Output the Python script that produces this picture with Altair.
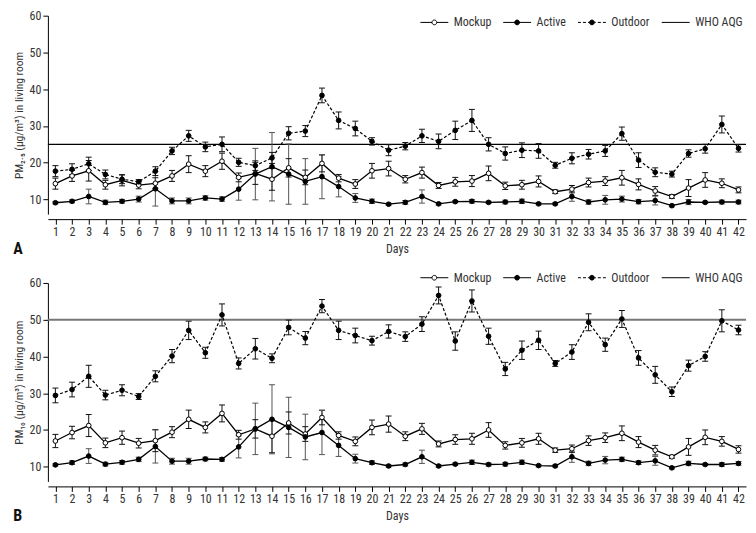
import altair as alt
import pandas as pd

FONT = "Roboto Condensed, Liberation Sans Narrow, DejaVu Sans Condensed, Arial Narrow, Roboto, sans-serif"

days = list(range(1, 43))
legend_items = ["Mockup", "Active", "Outdoor", "WHO AQG"]

# ---------- Panel A : PM2.5 ----------
pm25_who = 25
pm25_mockup = [14.3, 16.4, 17.8, 14.0, 15.2, 13.9, 14.4, 16.4, 19.6, 17.7, 20.4, 16.0, 17.1, 15.5,
               18.6, 16.0, 19.8, 15.8, 14.2, 17.8, 18.4, 15.5, 17.3, 13.8, 14.8, 15.0, 17.1, 13.7,
               14.0, 14.9, 12.1, 12.8, 14.6, 15.0, 15.9, 14.1, 12.3, 10.8, 13.1, 15.3, 14.4, 12.6]
pm25_mockup_err = [1.5, 1.5, 2.8, 1.2, 1.5, 1.0, 1.5, 1.5, 2.3, 1.5, 2.2, 1.2, 3.0, 3.0,
                   2.5, 2.0, 2.3, 1.0, 1.2, 2.0, 2.0, 1.0, 1.5, 0.8, 1.2, 1.5, 2.0, 1.0,
                   1.2, 1.5, 0.5, 1.0, 1.2, 1.2, 2.0, 1.5, 1.2, 0.5, 2.3, 2.0, 1.2, 0.8]
pm25_active = [9.1, 9.5, 10.8, 9.2, 9.5, 10.1, 12.9, 9.6, 9.6, 10.4, 10.1, 12.8, 16.9, 18.9,
               16.9, 14.9, 16.2, 13.5, 10.4, 9.5, 8.7, 9.2, 10.8, 8.8, 9.4, 9.5, 9.2, 9.3,
               9.5, 8.8, 8.8, 10.8, 9.3, 9.9, 10.1, 9.4, 9.7, 8.3, 9.3, 9.2, 9.3, 9.3]
pm25_active_err = [0.3, 0.4, 2.0, 0.6, 0.5, 0.8, 4.7, 0.8, 0.8, 0.6, 0.6, 3.0, 7.0, 9.3,
                   8.2, 6.2, 6.0, 2.8, 1.2, 0.6, 0.3, 0.5, 1.8, 0.3, 0.3, 0.5, 0.3, 0.5,
                   0.6, 0.3, 0.3, 1.3, 0.6, 1.2, 0.8, 0.6, 1.2, 0.3, 0.7, 0.3, 0.5, 0.5]
pm25_outdoor = [17.7, 18.2, 19.7, 16.8, 15.5, 14.8, 17.7, 23.2, 27.3, 24.3, 25.0, 20.1, 19.2, 21.3,
                28.0, 28.6, 38.3, 31.5, 29.3, 25.8, 23.4, 24.5, 27.3, 25.8, 28.8, 31.5, 25.0, 22.5,
                23.4, 23.2, 19.3, 21.2, 22.3, 23.2, 27.9, 20.7, 17.4, 16.9, 22.5, 23.8, 30.4, 23.9]
pm25_outdoor_err = [1.5, 1.5, 1.8, 1.2, 1.2, 0.6, 1.2, 1.0, 1.5, 1.3, 2.0, 1.1, 1.3, 1.5,
                    1.8, 1.5, 2.0, 2.3, 2.0, 1.0, 1.5, 1.0, 1.8, 2.0, 2.5, 3.0, 1.8, 1.8,
                    2.0, 2.0, 0.8, 1.5, 1.3, 1.5, 1.8, 2.0, 1.2, 0.8, 1.0, 1.2, 2.3, 1.0]

# ---------- Panel B : PM10 ----------
pm10_who = 50
pm10_mockup = [17.0, 19.3, 21.2, 16.5, 17.9, 16.4, 17.1, 19.4, 22.9, 20.7, 24.5, 18.7, 20.3, 18.3,
               21.9, 18.9, 23.4, 18.5, 16.9, 20.7, 21.6, 18.3, 20.3, 16.2, 17.4, 17.6, 20.0, 15.8,
               16.5, 17.6, 14.5, 14.9, 17.1, 17.9, 19.1, 16.7, 14.5, 12.7, 15.4, 18.0, 16.9, 14.7]
pm10_mockup_err = [1.8, 1.7, 3.0, 1.3, 1.8, 1.3, 3.0, 1.5, 2.5, 1.5, 2.3, 1.2, 2.5, 4.5,
                   3.0, 2.0, 2.0, 1.0, 1.2, 2.0, 2.2, 1.2, 1.5, 0.8, 1.3, 1.5, 2.0, 1.0,
                   1.2, 1.5, 0.6, 1.0, 1.3, 1.3, 2.0, 1.5, 1.3, 0.4, 2.3, 2.0, 1.3, 1.0]
pm10_active = [10.5, 11.1, 12.9, 10.7, 11.2, 12.0, 15.5, 11.5, 11.5, 12.1, 12.0, 15.4, 20.3, 22.9,
               20.7, 18.1, 19.3, 15.8, 12.2, 11.1, 10.2, 10.6, 12.7, 10.2, 10.7, 11.2, 10.6, 10.7,
               11.2, 10.3, 10.2, 12.7, 10.9, 11.8, 12.0, 11.1, 11.6, 9.7, 10.9, 10.6, 10.6, 10.9]
pm10_active_err = [0.3, 0.5, 2.0, 0.5, 0.5, 0.6, 4.5, 0.8, 0.8, 0.5, 0.5, 3.0, 7.0, 9.4,
                   8.2, 6.2, 6.0, 3.0, 1.2, 0.5, 0.3, 0.4, 1.8, 0.3, 0.3, 0.6, 0.4, 0.5,
                   0.6, 0.3, 0.3, 1.5, 0.6, 1.0, 0.6, 0.5, 1.2, 0.3, 0.6, 0.3, 0.5, 0.5]
pm10_outdoor = [29.4, 31.0, 34.6, 29.5, 30.8, 29.1, 34.6, 40.1, 47.1, 41.0, 51.3, 38.1, 42.1, 39.5,
                47.9, 45.0, 53.7, 47.1, 45.7, 44.3, 46.8, 45.4, 48.8, 56.6, 44.2, 55.1, 45.5, 36.6,
                41.7, 44.4, 38.1, 41.2, 49.3, 43.2, 50.2, 39.6, 35.0, 30.4, 37.5, 40.0, 49.7, 47.2]
pm10_outdoor_err = [2.0, 2.0, 3.0, 1.3, 1.5, 0.8, 1.5, 1.8, 2.5, 1.5, 3.0, 1.5, 2.8, 1.2,
                    2.0, 1.8, 1.8, 2.5, 2.0, 1.2, 1.8, 1.3, 2.0, 2.3, 2.5, 3.0, 2.2, 1.8,
                    2.5, 2.5, 0.8, 2.0, 2.3, 1.8, 2.3, 2.0, 2.3, 1.3, 1.5, 1.3, 3.0, 1.3]

W, H = 700, 199


def circle(r):
    return f"M{-r},0A{r},{r},0,1,1,{r},0A{r},{r},0,1,1,{-r},0Z"


# legend glyphs: unit = 7 px (symbolSize 196), drawn 28 px wide
R = 0.34
legend_paths = [
    f"M-2,0H{-R}M{R},0H2" + circle(R),
    "M-2,0H2" + circle(R),
    f"M-2,0H-1.57M-1.28,0H-0.85M-0.56,0H{-R}M{R},0H0.56M0.85,0H1.28M1.57,0H2" + circle(R),
    "M-2,0H2",
]


def build_df(mockup, mockup_err, active, active_err, outdoor, outdoor_err):
    rows = []
    for name, vals, errs in [("Mockup", mockup, mockup_err),
                             ("Active", active, active_err),
                             ("Outdoor", outdoor, outdoor_err)]:
        for d, v, e in zip(days, vals, errs):
            rows.append({"day": d, "series": name, "mean": v, "lo": v - e, "hi": v + e})
    return pd.DataFrame(rows)


def panel(df, who, ytitle, label, who_color, who_width, legend_y):
    xscale = alt.Scale(domain=[0.55, 42.45], nice=False, zero=False)
    yscale = alt.Scale(domain=[6, 60], nice=False, zero=False)
    xaxis = alt.Axis(values=days, offset=5, tickSize=5, labelPadding=2, labelFontSize=12,
                     title="Days", titleFontSize=12, titleFontWeight="normal", titlePadding=6,
                     grid=False, domainColor="black", tickColor="black", labelColor="#333",
                     titleColor="#333", labelFont=FONT, titleFont=FONT, labelFlush=False)
    yaxis = alt.Axis(values=[10, 20, 30, 40, 50, 60], tickSize=5, labelPadding=2, labelFontSize=12,
                     title=ytitle, titleFontSize=11.5, titleFontWeight="normal", titlePadding=5,
                     grid=False, domainColor="black", tickColor="black", labelColor="#333",
                     titleColor="#333", labelFont=FONT, titleFont=FONT)

    def X(field="day"):
        return alt.X(f"{field}:Q", scale=xscale, axis=xaxis)

    def Y(field):
        return alt.Y(f"{field}:Q", scale=yscale, axis=yaxis)

    base = alt.Chart(df)
    err_color = alt.condition("datum.series == 'Active'", alt.value("#555"), alt.value("#111"))

    who_rule = alt.Chart(pd.DataFrame({"who": [who]})).mark_rule(
        color=who_color, strokeWidth=who_width).encode(y=Y("who"))

    bars = base.mark_rule(strokeWidth=1).encode(
        x=X(), y=Y("lo"), y2="hi:Q", color=err_color)
    caps_lo = base.mark_tick(orient="horizontal", size=6, thickness=1, opacity=1).encode(
        x=X(), y=Y("lo"), color=err_color)
    caps_hi = base.mark_tick(orient="horizontal", size=6, thickness=1, opacity=1).encode(
        x=X(), y=Y("hi"), color=err_color)

    solid_lines = base.transform_filter("datum.series != 'Outdoor'").mark_line(
        color="black", strokeWidth=1.3).encode(x=X(), y=Y("mean"), detail="series:N")
    dashed_line = base.transform_filter("datum.series == 'Outdoor'").mark_line(
        color="black", strokeWidth=1.2, strokeDash=[3, 2]).encode(x=X(), y=Y("mean"))

    points = base.mark_point(filled=True, size=22, stroke="black", strokeWidth=1, opacity=1).encode(
        x=X(), y=Y("mean"),
        fill=alt.condition("datum.series == 'Mockup'", alt.value("white"), alt.value("black")))

    leg = alt.Legend(title=None, orient="none", legendX=380, legendY=legend_y, direction="horizontal",
                     padding=0, symbolSize=196, symbolStrokeWidth=1, symbolOpacity=1,
                     labelFontSize=12, labelFont=FONT, labelColor="#333", labelOffset=12,
                     columnPadding=9)
    legend_layer = alt.Chart(pd.DataFrame({"item": legend_items})).transform_filter("false").mark_point(
        filled=False, opacity=1, strokeWidth=1).encode(
        x=X(), y=Y("mean"),
        shape=alt.Shape("item:N", scale=alt.Scale(domain=legend_items, range=legend_paths), legend=leg),
        fill=alt.Fill("item:N", scale=alt.Scale(domain=legend_items,
                                                range=["white", "black", "black", "black"]), legend=leg),
        stroke=alt.Stroke("item:N", scale=alt.Scale(domain=legend_items,
                                                    range=["black", "black", "black", "black"]), legend=leg),
    )

    return alt.layer(who_rule, bars, caps_lo, caps_hi, solid_lines, dashed_line, points, legend_layer).properties(
        width=W, height=H,
        title=alt.TitleParams(text=label, orient="bottom", anchor="start", frame="bounds",
                              fontSize=16, fontWeight="bold", font=FONT, offset=-13, color="#111"),
    )


df_a = build_df(pm25_mockup, pm25_mockup_err, pm25_active, pm25_active_err, pm25_outdoor, pm25_outdoor_err)
df_b = build_df(pm10_mockup, pm10_mockup_err, pm10_active, pm10_active_err, pm10_outdoor, pm10_outdoor_err)

chart_a = panel(df_a, pm25_who, "PM₂.₅ (μg/m³) in living room", "A", "black", 1.2, -1)
chart_b = panel(df_b, pm10_who, "PM₁₀ (μg/m³) in living room", "B", "#777", 2, -13)

chart = alt.vconcat(chart_a, chart_b, spacing=11).resolve_scale(
    shape="independent", fill="independent", stroke="independent").resolve_legend(
    shape="independent", fill="independent", stroke="independent").properties(
    padding={"left": 4, "top": 0, "right": 0, "bottom": 0}).configure_view(stroke="transparent")

chart.save("out.html", embed_options={"renderer": "svg", "actions": False})
